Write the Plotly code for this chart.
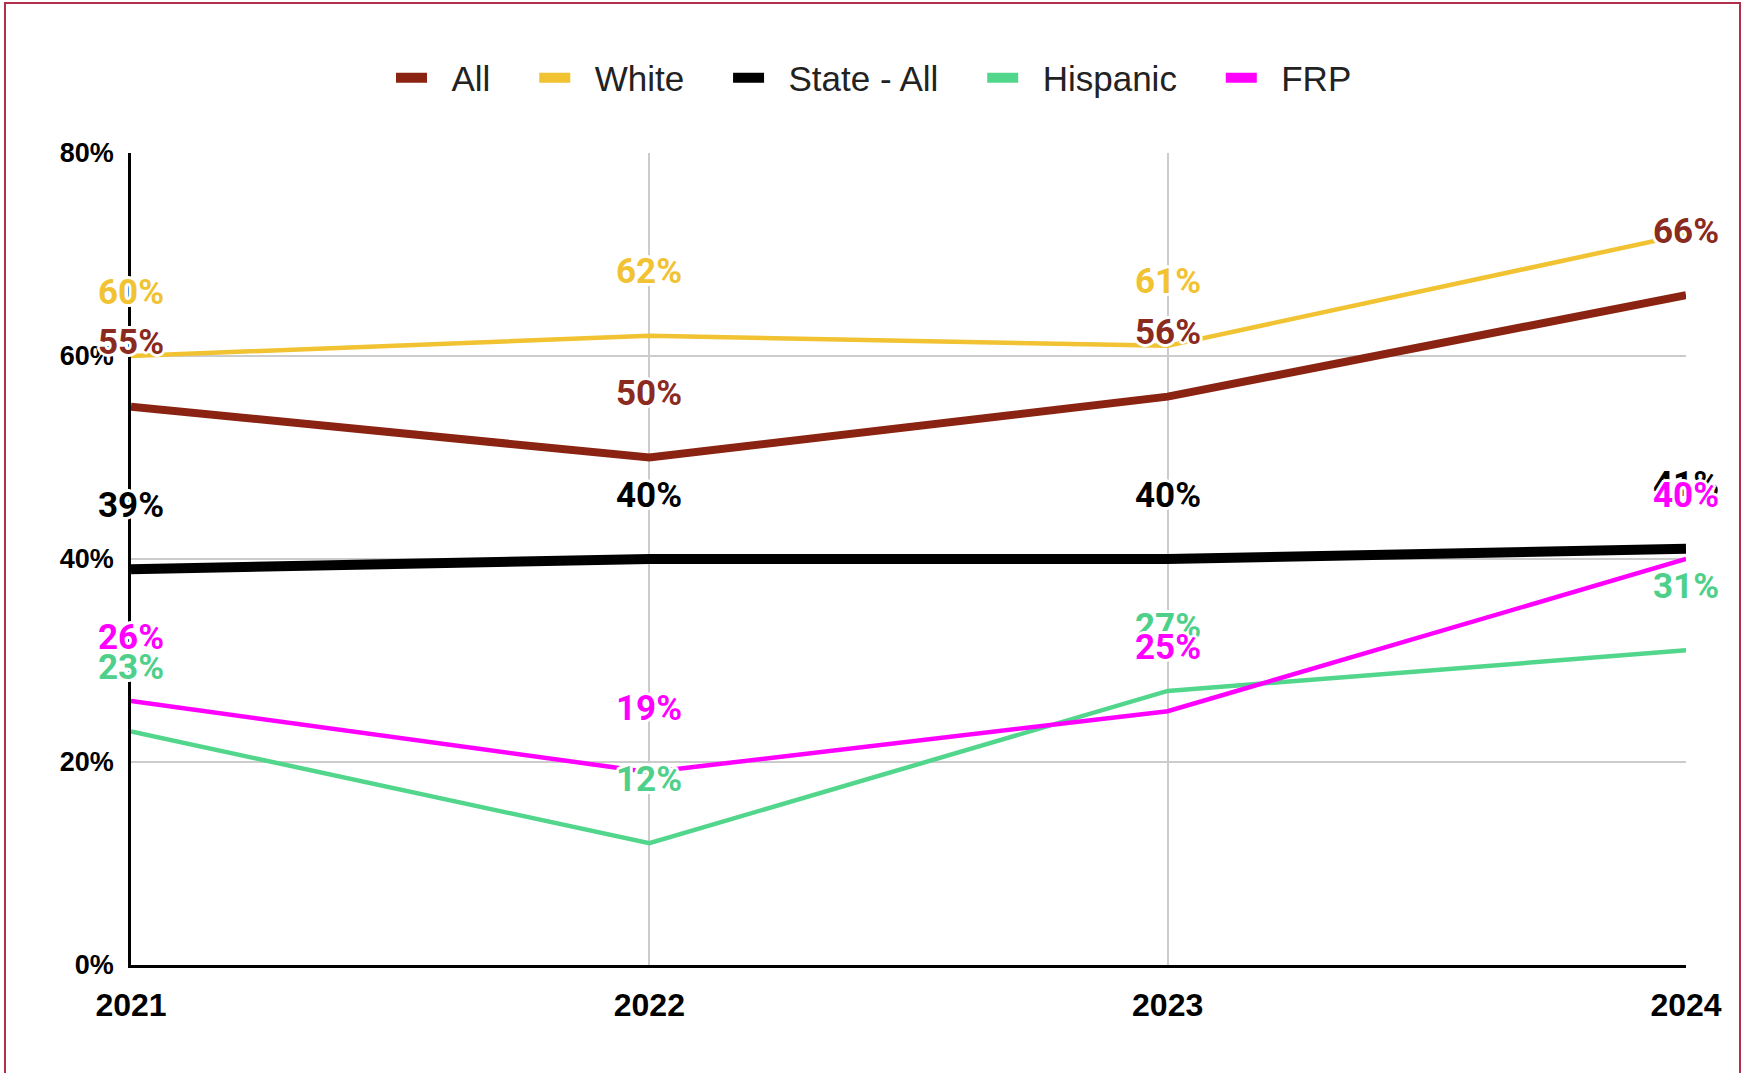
import plotly.graph_objects as go

years = [2021, 2022, 2023, 2024]
series_names = ["All", "White", "State - All", "Hispanic", "FRP"]
all_vals = [55, 50, 56, 66]
white_vals = [60, 62, 61, 72]
state_vals = [39, 40, 40, 41]
hispanic_vals = [23, 12, 27, 31]
frp_vals = [26, 19, 25, 40]
y_ticks = [0, 20, 40, 60, 80]

series_vals = [all_vals, white_vals, state_vals, hispanic_vals, frp_vals]
line_colors = ["#8b2312", "#f1c232", "#000000", "#52d68c", "#ff00ff"]
label_colors = ["#8b2a1e", "#f1c232", "#000000", "#4fd08a", "#ff00ff"]
line_widths = [8, 4.5, 10, 4.5, 4.5]
# labels not shown in the reference (series index, point index)
hidden_labels = {(1, 3)}

W, H = 1748, 1073
L, R, T, B = 131, 62, 153, 108
pw, ph = W - L - R, H - T - B

fig = go.Figure()

for name, vals, c, w in zip(series_names, series_vals, line_colors, line_widths):
    fig.add_trace(go.Scatter(x=years, y=vals, mode="lines", name=name,
                             line=dict(color=c, width=w), showlegend=False,
                             hoverinfo="skip"))
# legend entries with uniform swatches (padding with non-breaking spaces)
NB = "\u00a0"
for i, (name, c) in enumerate(zip(series_names, line_colors)):
    lead = NB * 2
    trail = NB * 4 if i < len(series_names) - 1 else ""
    fig.add_trace(go.Scatter(x=[None], y=[None], mode="lines",
                             name=lead + name + trail,
                             line=dict(color=c, width=10), showlegend=True))

halo = ("2px 2px 0 #fff, -2px -2px 0 #fff, 2px -2px 0 #fff, -2px 2px 0 #fff, "
        "0 3px 0 #fff, 0 -3px 0 #fff, 3px 0 0 #fff, -3px 0 0 #fff")
annotations = []
for si, (vals, lc) in enumerate(zip(series_vals, label_colors)):
    for pi, (x, v) in enumerate(zip(years, vals)):
        if (si, pi) in hidden_labels:
            continue
        annotations.append(dict(
            x=x, y=v, xref="x", yref="y", text=f"{v}%", showarrow=False,
            xanchor="center", yanchor="middle", yshift=64,
            font=dict(family="Roboto, Arial", size=35, color=lc, weight="bold",
                      shadow=halo)))

def px_to_paper_x(px):
    return (px - L) / pw

def px_to_paper_y(py):
    return (H - B - py) / ph

shapes = [dict(type="rect", xref="paper", yref="paper",
               x0=px_to_paper_x(5), x1=px_to_paper_x(1740),
               y0=px_to_paper_y(1085), y1=px_to_paper_y(3),
               line=dict(color="#b22f4c", width=2), fillcolor="rgba(0,0,0,0)",
               layer="below")]

fig.update_layout(
    width=W, height=H,
    margin=dict(l=L, r=R, t=T, b=B, pad=0),
    paper_bgcolor="white", plot_bgcolor="white",
    showlegend=True,
    legend=dict(orientation="h", xref="container", yref="container",
                x=0.5, xanchor="center", y=1 - 78 / H, yanchor="middle",
                font=dict(family="Liberation Sans, Arial", size=35, color="#222222"),
                itemwidth=31, tracegroupgap=0, bgcolor="rgba(0,0,0,0)"),
    xaxis=dict(range=[years[0], years[-1]], tickvals=years,
               ticktext=[str(y) for y in years],
               showgrid=True, gridcolor="#cccccc", gridwidth=2,
               showline=True, linecolor="#000000", linewidth=2.5,
               zeroline=False, ticks="", ticklabelstandoff=10,
               tickfont=dict(family="Liberation Sans, Arial", size=32,
                             color="#000000", weight="bold")),
    yaxis=dict(range=[y_ticks[0], y_ticks[-1]], tickvals=y_ticks,
               ticktext=[f"{t}%" for t in y_ticks],
               showgrid=True, gridcolor="#cccccc", gridwidth=2,
               showline=True, linecolor="#000000", linewidth=2.5,
               zeroline=False, ticks="", ticklabelstandoff=9,
               tickfont=dict(family="Liberation Sans, Arial", size=27,
                             color="#000000", weight="bold")),
    annotations=annotations,
    shapes=shapes,
)

fig.write_html("out.html", config={"displayModeBar": False},
               post_script="document.body.style.margin='0px';")
